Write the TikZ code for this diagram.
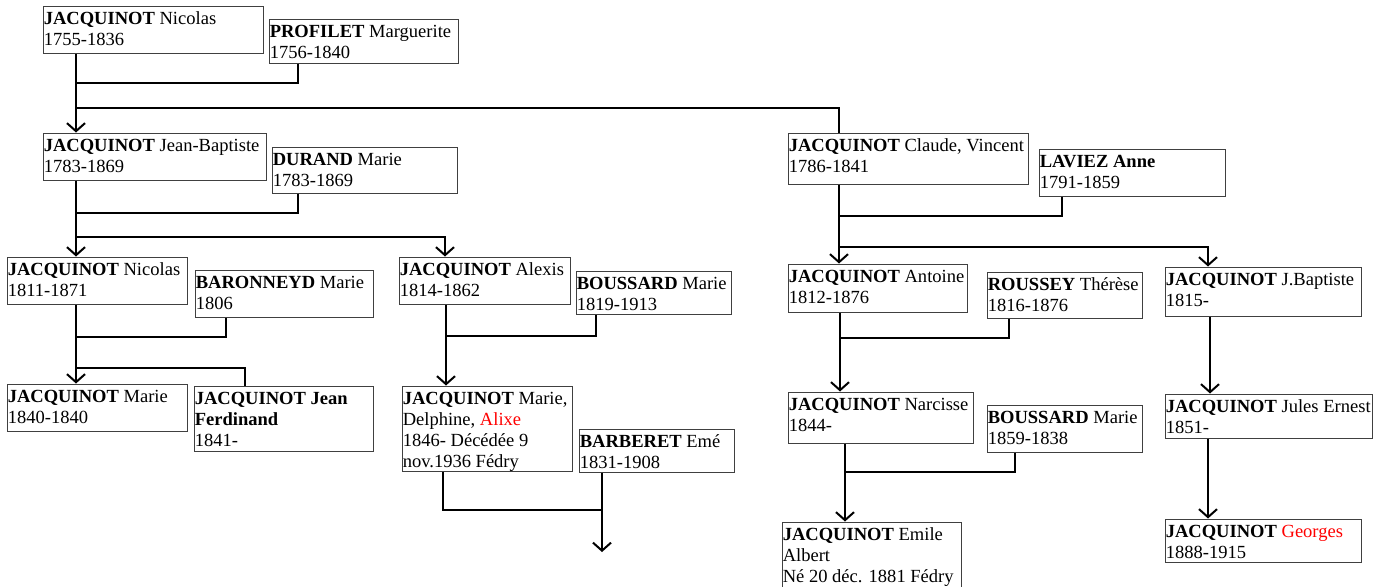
\documentclass[tikz,border=0pt]{standalone}
\usepackage{fontspec}
\setmainfont{Liberation Serif}
\usetikzlibrary{fit,arrows.meta}
\begin{document}
\begin{tikzpicture}[x=0.75pt,y=-0.75pt,
  box/.style={draw=black!75, line width=0.75pt, inner sep=0pt},
  txt/.style={anchor=north west, inner sep=0pt, align=left, font=\fontsize{13.9}{15.75}\selectfont},
  conn/.style={line width=1.5pt, black},
  arr/.style={-{Straight Barb[length=6pt,width=13.5pt]}}]
\useasboundingbox (0,0) rectangle (1382,586);
\fill[white] (0,0) rectangle (1382,586);
\clip (0,0) rectangle (1382,586);
% boxes
\node[box, fit={(43,6) (263,53)}] (A) {};
\node[box, fit={(269,19) (458,63)}] (B) {};
\node[box, fit={(43,133) (266,180)}] (C) {};
\node[box, fit={(272,147) (457,193)}] (D) {};
\node[box, fit={(7,257) (187,304)}] (E) {};
\node[box, fit={(195,270) (373,317)}] (F) {};
\node[box, fit={(7,384) (187,431)}] (G) {};
\node[box, fit={(194,386) (373,451)}] (H) {};
\node[box, fit={(399,257) (570,304)}] (I) {};
\node[box, fit={(576,271) (731,314)}] (J) {};
\node[box, fit={(402,386) (572,471)}] (K) {};
\node[box, fit={(579,429) (734,472)}] (L) {};
\node[box, fit={(788,133) (1028,184)}] (M) {};
\node[box, fit={(1039,149) (1225,196)}] (N) {};
\node[box, fit={(788,264) (967,312)}] (O) {};
\node[box, fit={(987,272) (1142,318)}] (P) {};
\node[box, fit={(1165,267) (1361,316)}] (Q) {};
\node[box, fit={(788,392) (973,443)}] (R) {};
\node[box, fit={(987,405) (1142,452)}] (S) {};
\node[box, fit={(782,522) (961,600)}] (T) {};
\node[box, fit={(1165,394) (1372,438)}] (U) {};
\node[box, fit={(1165,519) (1361,562)}] (V) {};
% texts
\node[txt] (At) at ([shift={(1,3.8)}]A.north west) {\strut\textbf{JACQUINOT} Nicolas\\1755-1836};
\node[txt] (Bt) at ([shift={(1,3.8)}]B.north west) {\strut\textbf{PROFILET} Marguerite\\1756-1840};
\node[txt] (Ct) at ([shift={(1,3.8)}]C.north west) {\strut\textbf{JACQUINOT} Jean-Baptiste\\1783-1869};
\node[txt] (Dt) at ([shift={(1,3.8)}]D.north west) {\strut\textbf{DURAND} Marie\\1783-1869};
\node[txt] (Et) at ([shift={(1,3.8)}]E.north west) {\strut\textbf{JACQUINOT} Nicolas\\1811-1871};
\node[txt] (Ft) at ([shift={(1,3.8)}]F.north west) {\strut\textbf{BARONNEYD} Marie\\1806};
\node[txt] (Gt) at ([shift={(1,3.8)}]G.north west) {\strut\textbf{JACQUINOT} Marie\\1840-1840};
\node[txt] (Ht) at ([shift={(1,3.8)}]H.north west) {\strut\textbf{JACQUINOT Jean}\\\textbf{Ferdinand}\\1841-};
\node[txt] (It) at ([shift={(1,3.8)}]I.north west) {\strut\textbf{JACQUINOT} Alexis\\1814-1862};
\node[txt] (Jt) at ([shift={(1,3.8)}]J.north west) {\strut\textbf{BOUSSARD} Marie\\1819-1913};
\node[txt] (Kt) at ([shift={(1,3.8)}]K.north west) {\strut\textbf{JACQUINOT} Marie,\\Delphine, \textcolor{red}{Alixe}\\1846- Décédée 9\\nov.1936 Fédry};
\node[txt] (Lt) at ([shift={(1,3.8)}]L.north west) {\strut\textbf{BARBERET} Emé\\1831-1908};
\node[txt] (Mt) at ([shift={(1,3.8)}]M.north west) {\strut\textbf{JACQUINOT} Claude, Vincent\\1786-1841};
\node[txt] (Nt) at ([shift={(1,3.8)}]N.north west) {\strut\textbf{LAVIEZ Anne}\\1791-1859};
\node[txt] (Ot) at ([shift={(1,3.8)}]O.north west) {\strut\textbf{JACQUINOT} Antoine\\1812-1876};
\node[txt] (Pt) at ([shift={(1,3.8)}]P.north west) {\strut\textbf{ROUSSEY} Thérèse\\1816-1876};
\node[txt] (Qt) at ([shift={(1,3.8)}]Q.north west) {\strut\textbf{JACQUINOT} J.Baptiste\\1815-};
\node[txt] (Rt) at ([shift={(1,3.8)}]R.north west) {\strut\textbf{JACQUINOT} Narcisse\\1844-};
\node[txt] (St) at ([shift={(1,3.8)}]S.north west) {\strut\textbf{BOUSSARD} Marie\\1859-1838};
\node[txt] (Tt) at ([shift={(1,3.8)}]T.north west) {\strut\textbf{JACQUINOT} Emile\\Albert\\Né 20 déc. 1881 Fédry};
\node[txt] (Ut) at ([shift={(1,3.8)}]U.north west) {\strut\textbf{JACQUINOT} Jules Ernest\\1851-};
\node[txt] (Vt) at ([shift={(1,3.8)}]V.north west) {\strut\textbf{JACQUINOT} \textcolor{red}{Georges}\\1888-1915};
% coordinates
\coordinate (x1) at (76,0);
\coordinate (x1b) at (298,0);
\coordinate (j1) at (76,83);
\coordinate (k1) at (76,108);
\coordinate (j2) at (76,213);
\coordinate (k2) at (76,237);
\coordinate (x2i) at (445,0);
\coordinate (x3f) at (226,0);
\coordinate (j3) at (76,337);
\coordinate (k3) at (76,368);
\coordinate (x3h) at (245,0);
\coordinate (x4) at (446,0);
\coordinate (x4j) at (596,0);
\coordinate (j4) at (446,336);
\coordinate (x5k) at (443,0);
\coordinate (x5l) at (602,0);
\coordinate (j5) at (602,510);
\coordinate (e5) at (602,552);
\coordinate (x6) at (839,0);
\coordinate (x6n) at (1062,0);
\coordinate (j6) at (839,216);
\coordinate (k6) at (839,247);
\coordinate (x6q) at (1208,0);
\coordinate (x7) at (840,0);
\coordinate (x7p) at (1009,0);
\coordinate (j7) at (840,338);
\coordinate (x8) at (845,0);
\coordinate (x8s) at (1015,0);
\coordinate (j8) at (845,472);
\coordinate (x9) at (1210,0);
\coordinate (x10) at (1208,0);
% connectors
\draw[conn] (B.south -| x1b) |- (j1);
\draw[conn,arr] (A.south -| x1) -- (C.north -| x1);
\draw[conn] (k1) -| (M.north -| x6);
\draw[conn] (D.south -| x1b) |- (j2);
\draw[conn,arr] (C.south -| x1) -- (E.north -| x1);
\draw[conn,arr] (k2) -| (I.north -| x2i);
\draw[conn] (F.south -| x3f) |- (j3);
\draw[conn,arr] (E.south -| x1) -- (G.north -| x1);
\draw[conn] (k3) -| (H.north -| x3h);
\draw[conn] (J.south -| x4j) |- (j4);
\draw[conn,arr] (I.south -| x4) -- (K.north -| x4);
\draw[conn] (K.south -| x5k) |- (j5);
\draw[conn,arr] (L.south -| x5l) -- (e5);
\draw[conn] (N.south -| x6n) |- (j6);
\draw[conn,arr] (M.south -| x6) -- (O.north -| x6);
\draw[conn,arr] (k6) -| (Q.north -| x6q);
\draw[conn] (P.south -| x7p) |- (j7);
\draw[conn,arr] (O.south -| x7) -- (R.north -| x7);
\draw[conn] (S.south -| x8s) |- (j8);
\draw[conn,arr] (R.south -| x8) -- (T.north -| x8);
\draw[conn,arr] (Q.south -| x9) -- (U.north -| x9);
\draw[conn,arr] (U.south -| x10) -- (V.north -| x10);
\end{tikzpicture}
\end{document}
